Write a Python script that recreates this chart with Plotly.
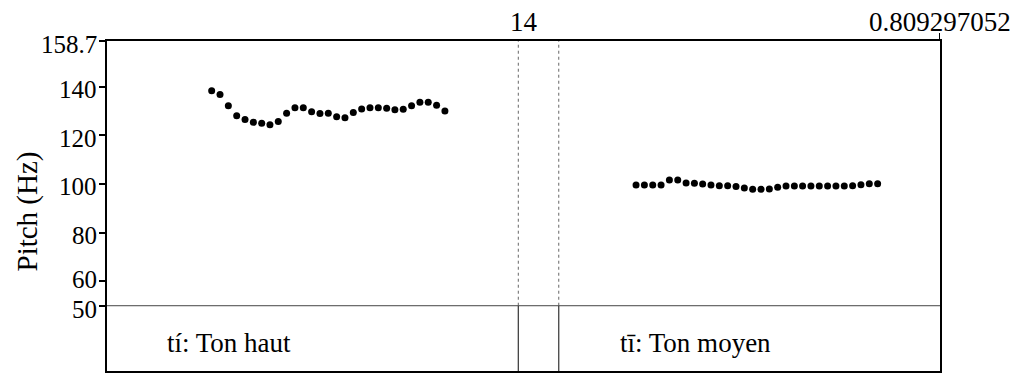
import plotly.graph_objects as go

# Pitch contour (Hz) for the two syllables, with frame times in seconds
t_haut = [0.1017, 0.1098, 0.1179, 0.1260, 0.1341, 0.1422, 0.1503, 0.1583, 0.1664, 0.1745,
          0.1826, 0.1907, 0.1988, 0.2069, 0.2150, 0.2231, 0.2312, 0.2393, 0.2474, 0.2555,
          0.2636, 0.2717, 0.2797, 0.2878, 0.2959, 0.3040, 0.3121, 0.3202, 0.3283]
f0_haut = [138.3, 136.7, 132.1, 128.0, 126.5, 125.3, 124.9, 124.3, 125.6, 129.0,
           131.3, 131.3, 129.7, 128.9, 129.0, 127.6, 127.2, 129.3, 130.8, 131.3,
           131.3, 131.1, 130.5, 130.7, 132.1, 133.5, 133.5, 132.3, 130.0]

t_moyen = [0.5140, 0.5221, 0.5302, 0.5383, 0.5464, 0.5545, 0.5626, 0.5707, 0.5787, 0.5868,
           0.5949, 0.6030, 0.6111, 0.6192, 0.6273, 0.6354, 0.6435, 0.6516, 0.6597, 0.6678,
           0.6758, 0.6839, 0.6920, 0.7001, 0.7082, 0.7163, 0.7244, 0.7325, 0.7406, 0.7487]
f0_moyen = [99.6, 99.6, 99.6, 99.6, 101.6, 101.6, 100.4, 100.3, 100.0, 99.6,
            99.3, 99.3, 99.0, 98.3, 97.8, 97.8, 97.9, 98.6, 99.2, 99.2,
            99.2, 99.2, 99.2, 99.2, 99.2, 99.2, 99.3, 99.7, 100.1, 100.1]

# Text tier: interval boundaries and labels
t_end = 0.809297052
boundaries = [0.3996, 0.4389]
tier_labels = ["tí: Ton haut", "tī: Ton moyen"]
tier_label_x = [0.0563, 0.4965]
boundary_caption = "14"
boundary_caption_x = 0.4056

pitch_min, pitch_max = 50, 158.7
y_floor = 23.2  # lower edge of the tier strip below the pitch floor
ytick_vals = [50, 60, 80, 100, 120, 140, 158.7]
ytick_text = ["50", "60", "80", "100", "120", "140", "158.7"]

FONT = "Liberation Serif, Times New Roman, serif"
FS = 27
TICK_FS = 25

fig = go.Figure()
for t, f in ((t_haut, f0_haut), (t_moyen, f0_moyen)):
    fig.add_trace(go.Scatter(x=t, y=f, mode="markers",
                             marker=dict(size=7, color="black"),
                             showlegend=False, hoverinfo="skip"))

shapes = [
    # pitch floor line separating the text tier
    dict(type="line", xref="x", yref="y", x0=0, x1=t_end, y0=pitch_min, y1=pitch_min,
         line=dict(color="#444", width=1)),
    # small tick above the top-right corner
    dict(type="line", xref="x", yref="paper", x0=t_end, x1=t_end, y0=1, y1=1 + 8 / 330,
         line=dict(color="black", width=2)),
]
for b in boundaries:
    shapes.append(dict(type="line", xref="x", yref="y", x0=b, x1=b, y0=pitch_min, y1=pitch_max,
                       line=dict(color="#666", width=1, dash="dot")))
    shapes.append(dict(type="line", xref="x", yref="y", x0=b, x1=b, y0=y_floor, y1=pitch_min,
                       line=dict(color="#333", width=1.2)))

annotations = [
    dict(text="Pitch (Hz)", xref="paper", yref="paper", x=0, y=0.5, xshift=-99, yshift=-6,
         textangle=-90, showarrow=False, font=dict(size=29, color="black", family=FONT)),
    dict(text=boundary_caption, xref="x", yref="paper", x=boundary_caption_x, y=1, yshift=19,
         yanchor="middle", showarrow=False, font=dict(size=FS, color="black", family=FONT)),
    dict(text=f"{t_end:.9f}", xref="x", yref="paper", x=t_end, y=1, yshift=19,
         yanchor="middle", showarrow=False, font=dict(size=FS, color="black", family=FONT)),
]
for lab, lx in zip(tier_labels, tier_label_x):
    annotations.append(dict(text=lab, xref="x", yref="paper", x=lx, y=0.085,
                            xanchor="left", yanchor="middle", showarrow=False,
                            font=dict(size=FS, color="black", family=FONT)))

# pitch tick labels, nudged so the two lowest ones keep clear of each other
tick_nudge = {50: -4, 60: 2}
for v, txt in zip(ytick_vals, ytick_text):
    annotations.append(dict(text=txt, xref="paper", yref="y", x=0, y=v, xshift=-9,
                            yshift=tick_nudge.get(v, -3), xanchor="right", yanchor="middle",
                            showarrow=False, borderpad=0,
                            font=dict(size=TICK_FS, color="black", family=FONT)))

fig.update_layout(
    width=1014, height=373,
    margin=dict(l=107, r=74, t=41, b=2),
    paper_bgcolor="white", plot_bgcolor="white",
    shapes=shapes, annotations=annotations,
    font=dict(family=FONT, color="black", size=FS),
    xaxis=dict(range=[0, t_end], showgrid=False, zeroline=False, showticklabels=False,
               ticks="", showline=True, mirror=True, linecolor="black", linewidth=2),
    yaxis=dict(range=[y_floor, pitch_max], showgrid=False, zeroline=False,
               tickmode="array", tickvals=ytick_vals, showticklabels=False,
               ticks="outside", ticklen=6, tickwidth=1.5, tickcolor="black",
               showline=True, mirror=True, linecolor="black", linewidth=2),
)

fig.write_html("out.html")
